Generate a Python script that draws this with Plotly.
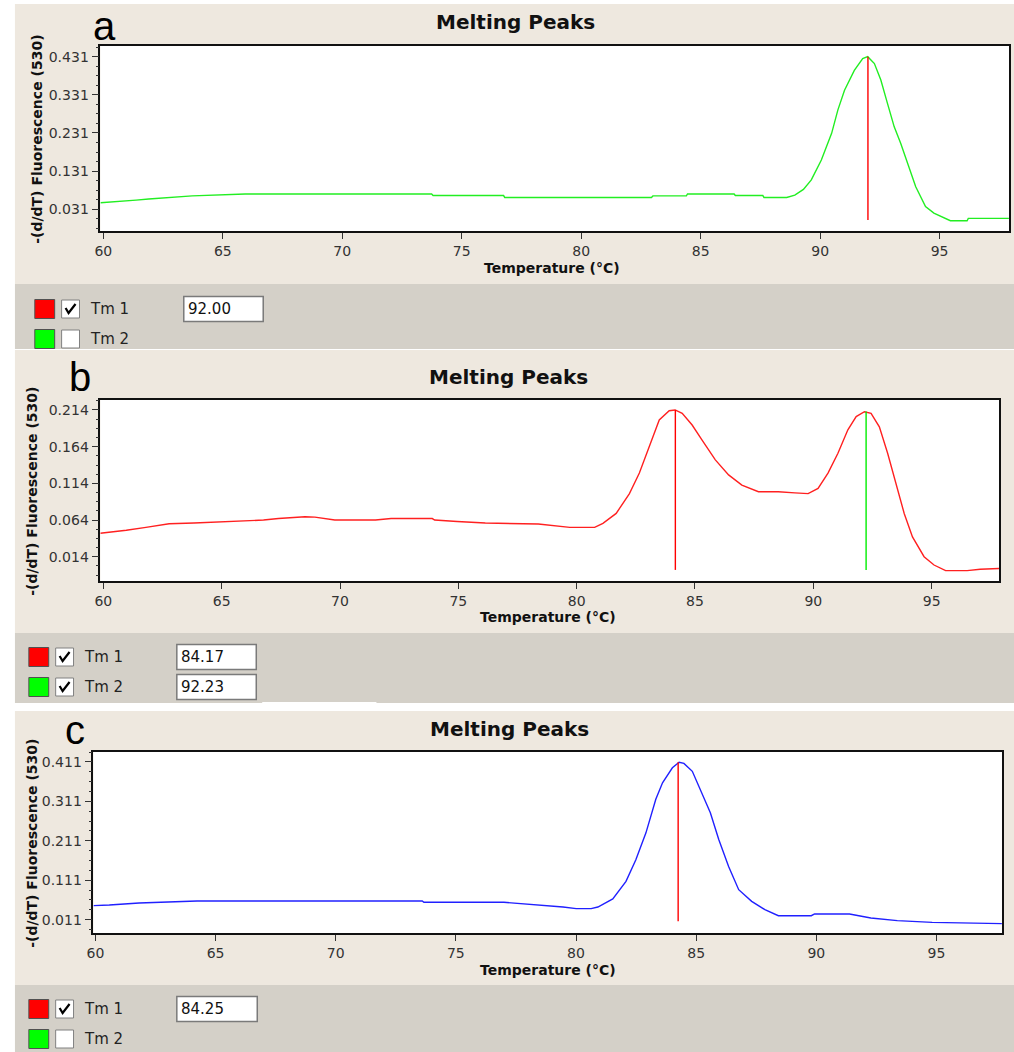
import plotly.graph_objects as go

W, H = 1014, 1052

# ---------------- data ----------------
temp_a = [59.88, 60.68, 61.37, 61.9, 62.75, 63.72, 65.94, 73.74, 73.8, 76.75, 76.8, 82.94, 83.0,
          84.4, 84.45, 86.4, 86.45, 87.6, 87.65, 88.6, 88.94, 89.3, 89.63, 90.05, 90.48, 90.74,
          91.02, 91.43, 91.78, 91.99, 92.27, 92.54, 92.82, 93.1, 93.37, 93.65, 94.0, 94.41, 94.76,
          95.45, 96.15, 96.2, 97.9]
dfdt_a = [0.048, 0.051, 0.055, 0.058, 0.062, 0.066, 0.071, 0.071, 0.067, 0.067, 0.062, 0.062, 0.066,
          0.066, 0.071, 0.071, 0.067, 0.067, 0.062, 0.062, 0.068, 0.083, 0.108, 0.160, 0.230, 0.291,
          0.343, 0.395, 0.426, 0.431, 0.413, 0.370, 0.308, 0.247, 0.204, 0.151, 0.090, 0.038, 0.021,
          0.001, 0.001, 0.007, 0.007]

temp_b = [59.87, 60.55, 60.97, 61.8, 62.78, 63.83, 65.72, 66.77, 67.4, 68.52, 68.94, 69.78, 71.5,
          72.16, 73.9, 74.0, 74.95, 76.14, 78.38, 79.15, 79.71, 80.76, 81.11, 81.67, 82.23, 82.65,
          83.07, 83.49, 83.91, 84.16, 84.46, 84.88, 85.30, 85.86, 86.42, 86.98, 87.68, 88.52, 89.22,
          89.78, 90.2, 90.62, 91.04, 91.46, 91.81, 92.16, 92.44, 92.79, 93.14, 93.49, 93.84, 94.19,
          94.68, 95.1, 95.59, 96.5, 97.05, 97.85]
dfdt_b = [0.046, 0.048, 0.050, 0.054, 0.059, 0.060, 0.062, 0.064, 0.066, 0.0685, 0.068, 0.064, 0.064,
          0.066, 0.066, 0.064, 0.062, 0.060, 0.0585, 0.056, 0.054, 0.054, 0.0595, 0.073, 0.100, 0.128,
          0.164, 0.2005, 0.213, 0.214, 0.2095, 0.1935, 0.173, 0.146, 0.1255, 0.1117, 0.1026, 0.1026,
          0.101, 0.100, 0.107, 0.128, 0.155, 0.187, 0.205, 0.2116, 0.2095, 0.191, 0.155, 0.114, 0.073,
          0.041, 0.014, 0.0027, -0.005, -0.005, -0.003, -0.002]

temp_c = [59.92, 60.58, 61.82, 64.23, 73.6, 73.67, 77.0, 77.8, 78.84, 79.46, 80.01, 80.63, 80.91,
          81.11, 81.53, 82.08, 82.49, 82.91, 83.32, 83.6, 84.01, 84.29, 84.49, 84.84, 85.25, 85.59,
          85.94, 86.35, 86.77, 87.31, 87.86, 88.42, 89.79, 89.93, 91.38, 92.27, 93.37, 94.82, 97.72]
dfdt_c = [0.0466, 0.0483, 0.0534, 0.0585, 0.0585, 0.055, 0.055, 0.0516, 0.0466, 0.043, 0.039, 0.039,
          0.043, 0.049, 0.0635, 0.108, 0.163, 0.231, 0.316, 0.358, 0.396, 0.410, 0.407, 0.387, 0.328,
          0.282, 0.214, 0.146, 0.087, 0.0575, 0.0364, 0.021, 0.021, 0.0255, 0.0255, 0.0153, 0.0085,
          0.0042, 0.001]

# melting temperatures (Tm markers) and their line extents
tm_a = [92.00]
tm_a_low = [0.003]
tm_a_high = [0.431]
tm_b = [84.17, 92.23]
tm_b_low = [-0.004, -0.004]
tm_b_high = [0.214, 0.212]
tm_c = [84.25]
tm_c_low = [0.0067]
tm_c_high = [0.410]

# tick labels
x_ticks = [60, 65, 70, 75, 80, 85, 90, 95]
y_ticks_a = [0.031, 0.131, 0.231, 0.331, 0.431]
y_ticks_b = [0.014, 0.064, 0.114, 0.164, 0.214]
y_ticks_c = [0.011, 0.111, 0.211, 0.311, 0.411]

tm_labels = ["Tm 1", "Tm 2"]
tm_text_a = ["92.00"]
tm_text_b = ["84.17", "92.23"]
tm_text_c = ["84.25"]
tm_checked_a = [True, False]
tm_checked_b = [True, True]
tm_checked_c = [True, False]

title_text = "Melting Peaks"
x_title = "Temperature (°C)"
y_title = "-(d/dT) Fluorescence (530)"
panel_letters = ["a", "b", "c"]

# ---------------- styling / layout ----------------
BEIGE = "#EEE8DF"
GREY = "#D4D0C8"
FONT = "DejaVu Sans, Verdana, sans-serif"
TM_COLORS = ["#FF0000", "#00EE00"]
SWATCH_COLORS = ["#FF0000", "#00FF00"]


def px(x):
    return x / W


def py(y):
    return 1 - y / H


panels = [
    dict(box=(94, 46, 1009, 231), xr=(59.875, 97.905), yr=(-0.026, 0.459),
         temp=temp_a, val=dfdt_a, color="#22EE22", yt=y_ticks_a, minor=0.025,
         tm=tm_a, lo=tm_a_low, hi=tm_a_high, txt=tm_text_a, chk=tm_checked_a,
         bg=(4, 284, 349), title=(512, 22), letter=(98, 50), ytitle=(30, 139), xtitle=(549, 268),
         leg_y=[309, 339], sq_x=28, cb_x=55, box_x=(178, 258)),
    dict(box=(94, 400, 999, 581), xr=(59.874, 97.85), yr=(-0.0191, 0.2276),
         temp=temp_b, val=dfdt_b, color="#FF2020", yt=y_ticks_b, minor=0.0125,
         tm=tm_b, lo=tm_b_low, hi=tm_b_high, txt=tm_text_b, chk=tm_checked_b,
         bg=(350, 633, 703), title=(505, 377), letter=(74, 401), ytitle=(25, 491), xtitle=(545, 617),
         leg_y=[657, 687], sq_x=22, cb_x=49, box_x=(171, 251)),
    dict(box=(87, 752, 1002, 933), xr=(59.917, 97.73), yr=(-0.0228, 0.436),
         temp=temp_c, val=dfdt_c, color="#2020FF", yt=y_ticks_c, minor=0.025,
         tm=tm_c, lo=tm_c_low, hi=tm_c_high, txt=tm_text_c, chk=tm_checked_c,
         bg=(711, 985, 1052), title=(506, 729), letter=(68, 754), ytitle=(25, 843), xtitle=(545, 970),
         leg_y=[1009, 1039], sq_x=22, cb_x=49, box_x=(171, 252)),
]

fig = go.Figure()
shapes = []
annotations = []
layout_axes = {}

for i, p in enumerate(panels):
    n = "" if i == 0 else str(i + 1)
    xa, ya = "x" + n, "y" + n
    x0, y0, x1, y1 = p["box"]
    top, mid, bot = p["bg"]

    # backgrounds
    shapes.append(dict(type="rect", xref="paper", yref="paper", x0=px(8), x1=1, y0=py(mid), y1=py(top),
                       fillcolor=BEIGE, line=dict(width=0), layer="below"))
    shapes.append(dict(type="rect", xref="paper", yref="paper", x0=px(8), x1=1, y0=py(bot), y1=py(mid),
                       fillcolor=GREY, line=dict(width=0), layer="below"))
    shapes.append(dict(type="rect", xref="paper", yref="paper", x0=px(x0), x1=px(x1), y0=py(y1), y1=py(y0),
                       fillcolor="white", line=dict(width=0), layer="below"))

    # curve
    fig.add_trace(go.Scatter(x=p["temp"], y=p["val"], mode="lines", xaxis=xa, yaxis=ya,
                             line=dict(color=p["color"], width=1.4), showlegend=False, hoverinfo="skip"))
    # Tm lines
    for k, t in enumerate(p["tm"]):
        fig.add_trace(go.Scatter(x=[t, t], y=[p["lo"][k], p["hi"][k]], mode="lines", xaxis=xa, yaxis=ya,
                                 line=dict(color=TM_COLORS[k], width=1.4), showlegend=False, hoverinfo="skip"))

    axkey = "xaxis" + n
    aykey = "yaxis" + n
    layout_axes[axkey] = dict(
        domain=[px(x0), px(x1)], range=list(p["xr"]), anchor=ya,
        tickmode="array", tickvals=x_ticks, ticktext=[str(v) for v in x_ticks],
        ticks="outside", ticklen=6, tickcolor="#333", tickwidth=1,
        showline=True, mirror=True, linecolor="#111", linewidth=1.5,
        showgrid=False, zeroline=False, fixedrange=True,
        tickfont=dict(family=FONT, size=14, color="#333"))
    layout_axes[aykey] = dict(
        domain=[py(y1), py(y0)], range=list(p["yr"]), anchor=xa,
        tickmode="array", tickvals=p["yt"], ticktext=["%.3f" % v for v in p["yt"]],
        ticks="outside", ticklen=7, tickcolor="#333", tickwidth=1,
        minor=dict(ticks="outside", ticklen=3, tickcolor="#333", dtick=p["minor"], tick0=p["yt"][0], showgrid=False),
        showline=True, mirror=True, linecolor="#111", linewidth=1.5,
        showgrid=False, zeroline=False, fixedrange=True,
        tickfont=dict(family=FONT, size=14, color="#333"))

    # texts
    annotations.append(dict(text="<b>" + title_text + "</b>", xref="paper", yref="paper",
                            x=px(p["title"][0]), y=py(p["title"][1]), xanchor="center", yanchor="middle",
                            showarrow=False, font=dict(family="DejaVu Sans", size=20, color="#111")))
    annotations.append(dict(text=panel_letters[i], xref="paper", yref="paper",
                            x=px(p["letter"][0]), y=py(p["letter"][1]), xanchor="center", yanchor="bottom",
                            showarrow=False, font=dict(family="Liberation Sans", size=40, color="#000")))
    annotations.append(dict(text="<b>" + y_title + "</b>", xref="paper", yref="paper", textangle=-90,
                            x=px(p["ytitle"][0]), y=py(p["ytitle"][1]), xanchor="center", yanchor="middle",
                            showarrow=False, font=dict(family=FONT, size=14, color="#111")))
    annotations.append(dict(text="<b>" + x_title + "</b>", xref="paper", yref="paper",
                            x=px(p["xtitle"][0]), y=py(p["xtitle"][1]), xanchor="center", yanchor="middle",
                            showarrow=False, font=dict(family=FONT, size=14, color="#111")))

    # legend rows (Tm controls)
    for k, lab in enumerate(tm_labels):
        cy = p["leg_y"][k]
        sq_x0 = p["sq_x"]
        shapes.append(dict(type="rect", xref="paper", yref="paper", x0=px(sq_x0), x1=px(sq_x0 + 20),
                           y0=py(cy + 9.5), y1=py(cy - 9.5), fillcolor=SWATCH_COLORS[k],
                           line=dict(color="#505050", width=1)))
        cb_x0 = p["cb_x"]
        shapes.append(dict(type="rect", xref="paper", yref="paper", x0=px(cb_x0), x1=px(cb_x0 + 18),
                           y0=py(cy + 9), y1=py(cy - 9), fillcolor="white",
                           line=dict(color="#808080", width=1)))
        if p["chk"][k]:
            pts = [(cb_x0 + 4, cy - 1), (cb_x0 + 7, cy + 4), (cb_x0 + 14, cy - 5)]
            path = "M {} {} L {} {} L {} {}".format(px(pts[0][0]), py(pts[0][1]), px(pts[1][0]), py(pts[1][1]),
                                                     px(pts[2][0]), py(pts[2][1]))
            shapes.append(dict(type="path", xref="paper", yref="paper", path=path,
                               line=dict(color="#000", width=2.2)))
        annotations.append(dict(text=lab, xref="paper", yref="paper", x=px(cb_x0 + 27), y=py(cy),
                                xanchor="left", yanchor="middle", showarrow=False,
                                font=dict(family=FONT, size=15, color="#222")))
        if k < len(p["txt"]):
            bx0, bx1 = p["box_x"]
            shapes.append(dict(type="rect", xref="paper", yref="paper", x0=px(bx0), x1=px(bx1),
                               y0=py(cy + 12.5), y1=py(cy - 12.5), fillcolor="white",
                               line=dict(color="#7A7A7A", width=1.5)))
            annotations.append(dict(text=p["txt"][k], xref="paper", yref="paper", x=px(bx0 + 2), y=py(cy),
                                    xanchor="left", yanchor="middle", showarrow=False,
                                    font=dict(family=FONT, size=15, color="#111")))

# small white strip at bottom of panel b control area
shapes.append(dict(type="rect", xref="paper", yref="paper", x0=px(257), x1=px(372), y0=py(706), y1=py(702),
                   fillcolor="white", line=dict(width=0)))

fig.update_layout(
    width=W, height=H, margin=dict(l=0, r=0, t=0, b=0),
    paper_bgcolor="white", plot_bgcolor="rgba(0,0,0,0)",
    shapes=shapes, annotations=annotations, showlegend=False,
    **layout_axes)

fig.write_html("out.html", config={"displayModeBar": False},
               post_script="document.body.style.margin='0';document.body.style.overflow='hidden';")
